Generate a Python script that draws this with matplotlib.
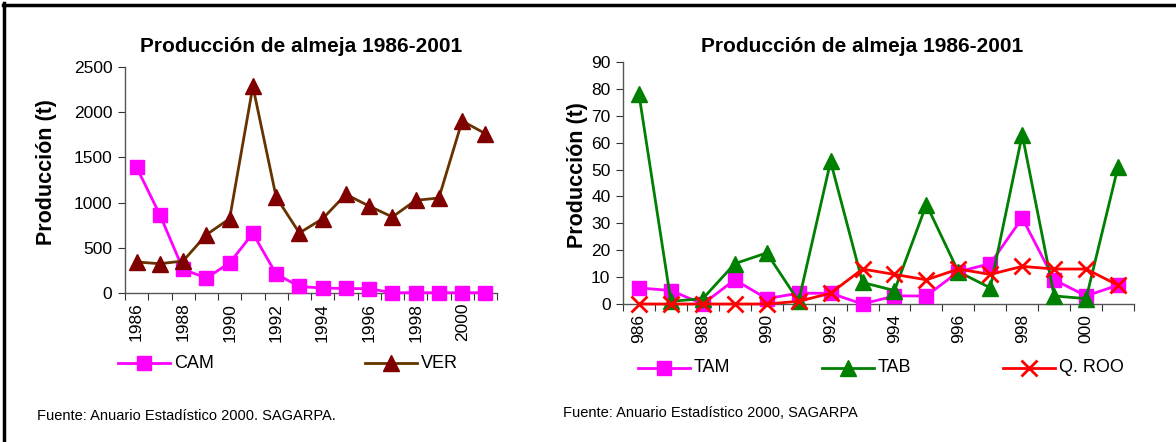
import matplotlib
matplotlib.use("Agg")
import matplotlib.pyplot as plt
from matplotlib.lines import Line2D
import numpy as np

plt.rcParams['font.family'] = ['Liberation Sans', 'DejaVu Sans']

years = list(range(1986, 2002))
left_labels = ['1986', '1988', '1990', '1992', '1994', '1996', '1998', '2000']
right_labels = ['986', '988', '990', '992', '994', '996', '998', '000']

cam = [1390, 865, 262, 166, 332, 660, 210, 72, 55, 50, 48, 3, 3, 3, 3, 3]
ver = [343, 324, 354, 645, 822, 2286, 1062, 664, 822, 1091, 962, 841, 1025, 1051, 1903, 1763]

tam = [6, 5, 0, 9, 2, 4, 4, 0, 3, 3, 12, 15, 32, 9, 3, 7]
tab = [78, 1, 2, 15, 19, 1, 53, 8, 5, 37, 12, 6, 63, 3, 2, 51]
qroo = [0, 0, 0, 0, 0, 1, 4, 13, 11, 9, 13, 11, 14, 13, 13, 7]

TITLE = 'Producción de almeja 1986-2001'

W, H = 1176, 442
fig = plt.figure(figsize=(W / 100, H / 100), dpi=100)

def px(x0, y0, x1, y1):
    return [x0 / W, 1 - y1 / H, (x1 - x0) / W, (y1 - y0) / H]

def style_axis(ax, ylim, yticks, labels):
    n = len(years)
    x = np.arange(n)
    ax.set_xlim(-0.5, n - 0.5)
    ax.set_ylim(*ylim)
    ax.set_yticks(yticks)
    ax.set_xticks(np.arange(-0.5, n, 1.0))
    ax.set_xticklabels([])
    ax.set_xticks(x[::2], minor=True)
    ax.set_xticklabels(labels, minor=True, rotation=90, fontsize=12.5)
    ax.tick_params(axis='x', which='minor', length=0, pad=7)
    ax.tick_params(axis='x', which='major', length=5, direction='out', color='#333333')
    ax.tick_params(axis='y', length=5, direction='out', labelsize=12.5, color='#333333', pad=4)
    for s in ['top', 'right']:
        ax.spines[s].set_visible(False)
    for s in ['left', 'bottom']:
        ax.spines[s].set_color('#555555')
        ax.spines[s].set_linewidth(1.0)
    return x

# Left chart
ax1 = fig.add_axes(px(125, 67, 497, 293))
x = style_axis(ax1, (0, 2500), range(0, 2501, 500), left_labels)
ax1.plot(x, cam, color='#FF00FF', lw=2, marker='s', ms=10.5, mfc='#FF00FF', mec='#FF00FF',
         label='CAM', clip_on=False, zorder=3)
ax1.plot(x, ver, color='#663300', lw=2, marker='^', ms=11.5, mfc='#800000', mec='#800000',
         label='VER', clip_on=False, zorder=3)

# Right chart
ax2 = fig.add_axes(px(623, 62, 1134, 304))
x = style_axis(ax2, (0, 90), range(0, 91, 10), right_labels)
ax2.plot(x, tam, color='#FF00FF', lw=2, marker='s', ms=10.5, mfc='#FF00FF', mec='#FF00FF',
         label='TAM', clip_on=False, zorder=3)
ax2.plot(x, tab, color='#008000', lw=2, marker='^', ms=11.5, mfc='#008000', mec='#008000',
         label='TAB', clip_on=False, zorder=3)
ax2.plot(x, qroo, color='#FF0000', lw=2, marker='x', ms=11, mew=2, mec='#FF0000',
         label='Q. ROO', clip_on=False, zorder=4)

# Titles and axis titles
fig.text(301 / W, 1 - 47 / H, TITLE, fontsize=15, fontweight='bold', ha='center', va='center')
fig.text(862 / W, 1 - 47 / H, TITLE, fontsize=15, fontweight='bold', ha='center', va='center')
fig.text(47 / W, 1 - 172 / H, 'Producción (t)', fontsize=15.5, fontweight='bold',
         rotation=90, ha='center', va='center')
fig.text(578 / W, 1 - 175 / H, 'Producción (t)', fontsize=15.5, fontweight='bold',
         rotation=90, ha='center', va='center')

# Legends
def leg_entry(xpx, ypx, color, marker, mfc, label, lcolor=None, ms=10.5):
    lx = [xpx / W, (xpx + 52) / W]
    ly = [1 - ypx / H] * 2
    fig.add_artist(Line2D(lx, ly, color=lcolor or color, lw=2, transform=fig.transFigure))
    kw = dict(mew=2) if marker == 'x' else {}
    fig.add_artist(Line2D([(xpx + 26) / W], [1 - ypx / H], marker=marker, ms=ms,
                          mfc=mfc, mec=mfc, color=mfc, transform=fig.transFigure, **kw))
    fig.text((xpx + 56) / W, 1 - ypx / H, label, fontsize=13, va='center', ha='left')

leg_entry(118, 363, '#FF00FF', 's', '#FF00FF', 'CAM')
leg_entry(365, 363, '#663300', '^', '#800000', 'VER', ms=11.5)
leg_entry(638, 368, '#FF00FF', 's', '#FF00FF', 'TAM')
leg_entry(822, 368, '#008000', '^', '#008000', 'TAB', ms=11.5)
leg_entry(1003, 368, '#FF0000', 'x', '#FF0000', 'Q. ROO', ms=11)

fig.text(37 / W, 1 - 416 / H, 'Fuente: Anuario Estadístico 2000. SAGARPA.', fontsize=10.5,
         va='center', ha='left')
fig.text(563 / W, 1 - 413 / H, 'Fuente: Anuario Estadístico 2000, SAGARPA', fontsize=10.5,
         va='center', ha='left')

# Outer frame
fig.add_artist(Line2D([3.5 / W, 3.5 / W], [0, 1 - 3 / H], color='black', lw=2.5,
                      transform=fig.transFigure))
fig.add_artist(Line2D([2.5 / W, 1], [1 - 4.5 / H, 1 - 4.5 / H], color='black', lw=2.5,
                      transform=fig.transFigure))

fig.savefig('out.png', dpi=100)
